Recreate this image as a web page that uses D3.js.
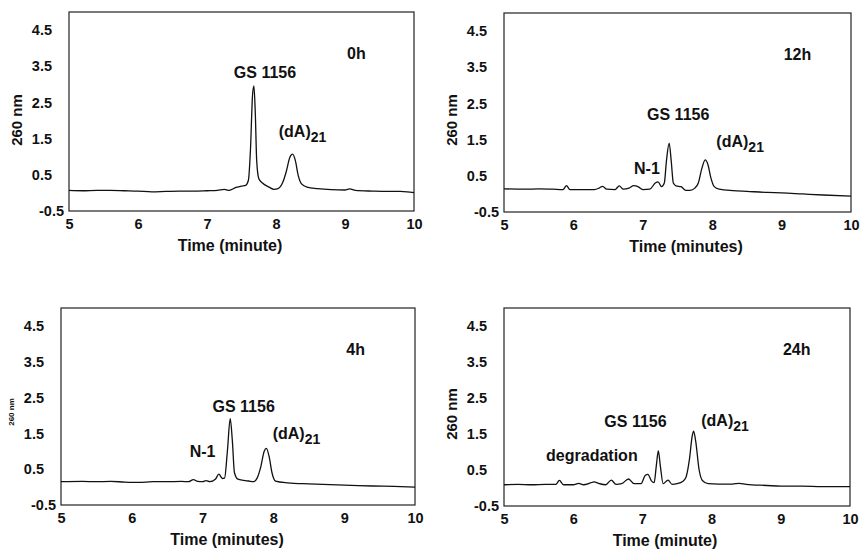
<!DOCTYPE html>
<meta charset="utf-8">
<style>
body {
  margin: 0;
  background: #fff;
}
svg text {
  font-family: "Liberation Sans", Arial, sans-serif;
  font-weight: bold;
  fill: #111;
}
.frame {
  fill: none;
  stroke: #222;
  stroke-width: 1.2px;
}
.trace {
  fill: none;
  stroke: #111;
  stroke-width: 1.3px;
}
</style>
<body>
<script src="https://cdn.jsdelivr.net/npm/d3@7"></script>
<script>
var width = 864,
    height = 553;

// chromatograms: [time (min), absorbance at 260 nm]
var trace0h = [
  [5.0,0.07],[5.2,0.06],[5.4,0.07],[5.6,0.07],[5.8,0.06],[6.0,0.05],[6.2,0.03],[6.4,0.04],
  [6.6,0.05],[6.8,0.05],[7.0,0.06],[7.15,0.07],[7.25,0.10],[7.32,0.07],[7.42,0.15],[7.5,0.19],
  [7.56,0.21],[7.6,0.35],[7.63,1.2],[7.66,2.7],[7.68,2.96],[7.7,2.2],[7.72,0.9],[7.75,0.4],
  [7.8,0.28],[7.9,0.16],[7.97,0.10],[8.03,0.12],[8.1,0.3],[8.15,0.6],[8.2,0.98],[8.24,1.07],
  [8.28,0.9],[8.32,0.5],[8.37,0.25],[8.45,0.16],[8.6,0.12],[8.8,0.09],[9.0,0.08],[9.07,0.11],
  [9.15,0.07],[9.4,0.05],[9.6,0.04],[9.8,0.04],[9.9,0.03],[10.0,0.01]
];
var trace12h = [
  [5.0,0.14],[5.3,0.13],[5.5,0.14],[5.7,0.13],[5.85,0.12],[5.9,0.23],[5.95,0.12],[6.1,0.12],
  [6.3,0.12],[6.37,0.16],[6.42,0.21],[6.48,0.13],[6.6,0.12],[6.66,0.22],[6.72,0.13],[6.8,0.16],
  [6.87,0.23],[6.93,0.2],[7.0,0.12],[7.1,0.13],[7.18,0.3],[7.22,0.33],[7.27,0.2],[7.31,0.3],
  [7.34,0.9],[7.38,1.40],[7.41,0.9],[7.44,0.3],[7.48,0.22],[7.55,0.2],[7.62,0.1],[7.68,0.1],
  [7.75,0.16],[7.8,0.3],[7.85,0.7],[7.9,0.94],[7.94,0.8],[7.98,0.45],[8.03,0.2],[8.1,0.13],
  [8.3,0.09],[8.5,0.07],[8.8,0.04],[9.0,0.03],[9.3,0.0],[9.6,-0.03],[10.0,-0.06]
];
var trace4h = [
  [5.0,0.15],[5.3,0.16],[5.5,0.15],[5.7,0.16],[5.9,0.14],[6.1,0.13],[6.3,0.15],[6.5,0.15],
  [6.7,0.16],[6.8,0.15],[6.87,0.21],[6.93,0.16],[7.0,0.15],[7.05,0.18],[7.1,0.15],[7.18,0.22],
  [7.23,0.36],[7.28,0.24],[7.31,0.25],[7.35,1.0],[7.39,1.91],[7.42,1.3],[7.45,0.4],[7.5,0.22],
  [7.58,0.19],[7.65,0.17],[7.72,0.15],[7.77,0.25],[7.82,0.55],[7.87,1.0],[7.9,1.08],[7.94,0.85],
  [7.98,0.4],[8.03,0.17],[8.2,0.12],[8.5,0.09],[8.8,0.07],[9.1,0.05],[9.4,0.03],[9.7,0.02],[10.0,0.0]
];
var trace24h = [
  [5.0,0.09],[5.2,0.1],[5.4,0.09],[5.6,0.1],[5.75,0.1],[5.8,0.21],[5.86,0.09],[6.0,0.09],
  [6.08,0.13],[6.15,0.09],[6.25,0.14],[6.3,0.17],[6.38,0.12],[6.47,0.09],[6.55,0.22],[6.62,0.1],
  [6.7,0.12],[6.8,0.25],[6.88,0.12],[6.98,0.12],[7.04,0.35],[7.08,0.38],[7.13,0.2],[7.17,0.15],
  [7.2,0.6],[7.23,1.03],[7.26,0.6],[7.3,0.12],[7.37,0.22],[7.43,0.1],[7.5,0.12],[7.58,0.18],
  [7.63,0.3],[7.68,0.8],[7.72,1.45],[7.74,1.58],[7.77,1.3],[7.82,0.5],[7.87,0.2],[7.95,0.12],
  [8.1,0.11],[8.3,0.11],[8.4,0.13],[8.5,0.1],[8.8,0.07],[9.0,0.05],[9.3,0.05],[9.6,0.04],[10.0,0.04]
];

var xTicks = [5, 6, 7, 8, 9, 10];
var yTicks = [-0.5, 0.5, 1.5, 2.5, 3.5, 4.5];
var timeLabels = ["0h", "12h", "4h", "24h"];
var xTitles = ["Time (minute)", "Time (minutes)", "Time (minutes)", "Time (minute)"];

// peak labels per panel: [text, subscript, time, absorbance]
var peaks0h = [["GS 1156", "", 7.84, 3.17], ["(dA)", "21", 8.04, 1.54]];
var peaks12h = [["GS 1156", "", 7.51, 2.03], ["(dA)", "21", 8.06, 1.31], ["N-1", "", 7.06, 0.56]];
var peaks4h = [["GS 1156", "", 7.58, 2.10], ["(dA)", "21", 7.99, 1.35], ["N-1", "", 7.0, 0.85]];
var peaks24h = [["GS 1156", "", 6.9, 1.69], ["(dA)", "21", 7.85, 1.72], ["degradation", "", 6.27, 0.76]];

var panels = [
  {trace: trace0h,  peaks: peaks0h,  x0: 69,  x1: 414, y0: 12,  y1: 211, tx: 230, yl: 120, ylSize: 15},
  {trace: trace12h, peaks: peaks12h, x0: 504, x1: 851, y0: 13,  y1: 212, tx: 686, yl: 120, ylSize: 15},
  {trace: trace4h,  peaks: peaks4h,  x0: 61,  x1: 415, y0: 308, y1: 505, tx: 227, yl: 412, ylSize: 8},
  {trace: trace24h, peaks: peaks24h, x0: 504, x1: 850, y0: 308, y1: 506, tx: 665, yl: 414, ylSize: 15}
];

var svg = d3.select("body").append("svg")
    .attr("width", width)
    .attr("height", height);

panels.forEach(function(p, i) {
  var x = d3.scaleLinear().domain([5, 10]).range([p.x0, p.x1]);
  var y = d3.scaleLinear().domain([-0.5, 5.0]).range([p.y1, p.y0]);
  var g = svg.append("g");

  g.append("rect")
      .attr("class", "frame")
      .attr("x", p.x0).attr("y", p.y0)
      .attr("width", p.x1 - p.x0).attr("height", p.y1 - p.y0);

  var xAxis = g.append("g")
      .attr("transform", "translate(0," + p.y1 + ")")
      .call(d3.axisBottom(x).tickValues(xTicks).tickSize(0).tickPadding(8)
        .tickFormat(function(d) { return String(d); }));
  var yAxis = g.append("g")
      .attr("transform", "translate(" + p.x0 + ",0)")
      .call(d3.axisLeft(y).tickValues(yTicks).tickSize(0).tickPadding(17)
        .tickFormat(function(d) { return d.toFixed(1); }));
  [xAxis, yAxis].forEach(function(a) {
    a.select(".domain").remove();
    a.selectAll("text").attr("font-size", 14.5).attr("font-family", null);
  });
  // the -0.5 label sits nearer the frame in the original
  yAxis.selectAll("text").filter(function(d) { return d === -0.5; }).attr("dx", 12);

  g.append("path")
      .datum(p.trace)
      .attr("class", "trace")
      .attr("d", d3.line()
        .x(function(d) { return x(d[0]); })
        .y(function(d) { return y(d[1]); })
        .curve(d3.curveMonotoneX));

  p.peaks.forEach(function(k) {
    var t = g.append("text")
        .attr("x", x(k[2]))
        .attr("y", y(k[3]))
        .attr("font-size", 16)
        .attr("text-anchor", k[1] ? "start" : "middle")
        .text(k[0]);
    if (k[1]) {
      t.append("tspan").attr("dy", 5).attr("font-size", 14).text(k[1]);
    }
  });

  g.append("text")
      .attr("x", x(9.03))
      .attr("y", y(3.7))
      .attr("font-size", 16)
      .text(timeLabels[i]);

  g.append("text")
      .attr("x", p.tx)
      .attr("y", p.y1 + 40)
      .attr("text-anchor", "middle")
      .attr("font-size", 16)
      .text(xTitles[i]);

  g.append("text")
      .attr("transform", "translate(" + (p.x0 - 47) + "," + p.yl + ") rotate(-90)")
      .attr("text-anchor", "middle")
      .attr("font-size", p.ylSize)
      .text("260 nm");
});
</script>
